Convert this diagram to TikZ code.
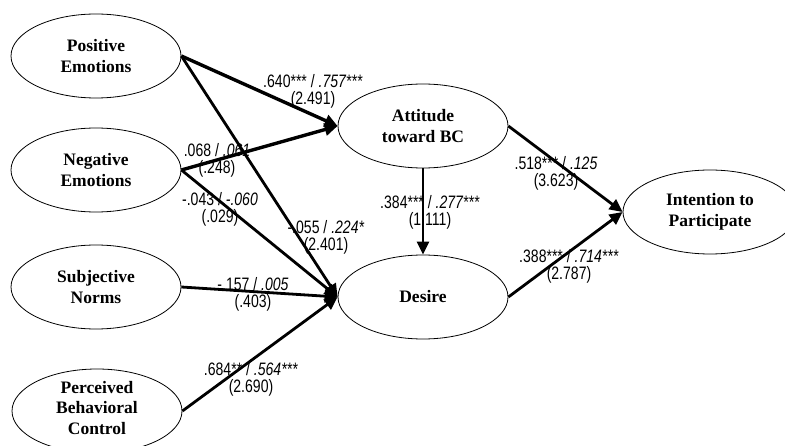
\documentclass[tikz,border=0pt]{standalone}
\usepackage{fontspec}
\setmainfont{Liberation Serif}
\newfontfamily\labelfont[FakeStretch=0.78]{Liberation Sans}
\usetikzlibrary{shapes.geometric,arrows.meta}

\tikzset{
  construct/.style={draw, ellipse, line width=0.8pt, inner sep=0pt,
    minimum width=170pt, minimum height=84pt},
  cname/.style={align=center, inner sep=0pt,
    font=\fontsize{17.5}{20.5}\selectfont\bfseries},
  path/.style={line width=2.8pt, -{Triangle[length=13pt,width=12pt]}},
  heavy/.style={line width=3.4pt},
  coef/.style={align=center, inner sep=0pt,
    font=\labelfont\fontsize{18}{17}\selectfont}
}

\begin{document}
\begin{tikzpicture}[x=1pt,y=-1pt]
  \useasboundingbox (0,0) rectangle (785,446);

  % constructs
  \node[construct] (pos) at (96,56) {};
  \node[construct] (neg) at (96,170) {};
  \node[construct] (sn)  at (96,287) {};
  \node[construct] (pbc) at (97,411) {};
  \node[construct] (att) at (423,126) {};
  \node[construct] (des) at (423,297) {};
  \node[construct, minimum width=174pt] (int) at (710,212) {};

  \node[cname] (posT) at (pos) {Positive\\Emotions};
  \node[cname] (negT) at (neg) {Negative\\Emotions};
  \node[cname] (snT)  at (sn)  {Subjective\\Norms};
  \node[cname] (pbcT) at ([yshift=3pt]pbc.center) {Perceived\\Behavioral\\Control};
  \node[cname] (attT) at (att) {Attitude\\toward BC};
  \node[cname] (desT) at (des) {Desire};
  \node[cname] (intT) at (int) {Intention to\\Participate};

  % structural paths
  \draw[path, heavy] (pos.east) -- (att.west);
  \draw[path, heavy] (neg.east) -- (att.west);
  \draw[path] (pos.east) -- (des.west);
  \draw[path] (neg.east) -- (des.west);
  \draw[path] (sn.east)  -- (des.west);
  \draw[path] (pbc.east) -- (des.west);
  \draw[path] (att.south) -- (des.north);
  \draw[path] (att.east) -- (int.west);
  \draw[path] (des.east) -- (int.west);

  % path coefficients
  \node[coef] (c1) at (313,91)  {.640*** / \textit{.757***}\\(2.491)};
  \node[coef] (c2) at (217,160) {.068 / \textit{.061}\\(.248)};
  \node[coef] (c3) at (220,209) {-.043 / \textit{-.060}\\(.029)};
  \node[coef] (c4) at (326,237) {-.055 / \textit{.224*}\\(2.401)};
  \node[coef] (c5) at (253,294) {-.157 / \textit{.005}\\(.403)};
  \node[coef] (c6) at (251,379) {.684** / \textit{.564***}\\(2.690)};
  \node[coef] (c7) at (430,212) {.384*** / \textit{.277***}\\(1.111)};
  \node[coef] (c8) at (556,173) {.518*** / \textit{.125}\\(3.623)};
  \node[coef] (c9) at (569,266) {.388*** / \textit{.714***}\\(2.787)};
\end{tikzpicture}
\end{document}
